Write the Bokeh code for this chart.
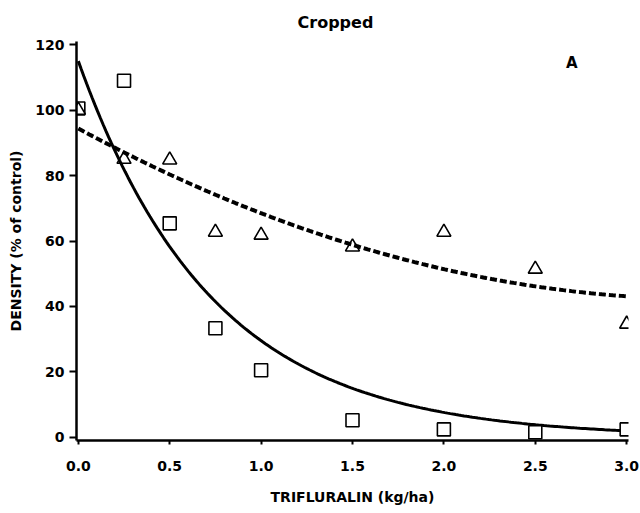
import numpy as np
from bokeh.plotting import figure
from bokeh.models import Range1d, FixedTicker, Title
from bokeh.core.properties import value
from bokeh.embed import file_html
from bokeh.resources import INLINE

sq_x = [0.0, 0.25, 0.5, 0.75, 1.0, 1.5, 2.0, 2.5, 3.0]
sq_y = [100.5, 109.0, 65.4, 33.3, 20.5, 5.2, 2.4, 1.5, 2.4]
tri_x = [0.0, 0.25, 0.5, 0.75, 1.0, 1.5, 2.0, 2.5, 3.0]
tri_y = [100.0, 85.0, 84.8, 62.7, 61.8, 58.2, 62.7, 51.4, 34.6]

# Fitted curves (parameters estimated from the figure)
solid_fit_a = 115.0   # exponential decay: a * exp(-b x)
solid_fit_b = 1.36
dashed_fit_coef = [94.4, -30.3, 4.4]  # quadratic: c0 + c1 x + c2 x^2

x_ticks = [0.0, 0.5, 1.0, 1.5, 2.0, 2.5, 3.0]
x_tick_labels = ["0.0", "0.5", "1.0", "1.5", "2.0", "2.5", "3.0"]
y_ticks = [0, 20, 40, 60, 80, 100, 120]

FONT = "DejaVu Sans"

p = figure(width=640, height=513, output_backend="svg", toolbar_location=None,
           x_range=Range1d(-0.01, 3.01), y_range=Range1d(-1, 121),
           min_border_left=76, min_border_right=12, min_border_top=41,
           min_border_bottom=73)
p.background_fill_color = "white"
p.border_fill_color = "white"
p.outline_line_color = None
p.grid.visible = False

p.title = Title(text="Cropped", align="left", offset=221, standoff=19,
                text_font=FONT, text_font_size="16px", text_font_style="bold",
                text_color="black")

xs = np.linspace(0, 3, 200)
solid_y = solid_fit_a * np.exp(-solid_fit_b * xs)
dashed_y = dashed_fit_coef[0] + dashed_fit_coef[1] * xs + dashed_fit_coef[2] * xs ** 2

p.line(xs, solid_y, line_color="black", line_width=3)
p.line(xs, dashed_y, line_color="black", line_width=4, line_dash="7 3")

p.scatter(sq_x, sq_y, marker="square", size=13, fill_color="white",
          line_color="black", line_width=1.6)
p.scatter(tri_x, tri_y, marker="triangle", size=14, fill_color=None,
          line_color="black", line_width=1.6)

p.text(x=[2.7], y=[114.5], text=["A"], text_font=value(FONT),
       text_font_size="15px", text_font_style="bold", text_align="center",
       text_baseline="middle", text_color="black")

# axes styling
p.xaxis.ticker = FixedTicker(ticks=x_ticks)
p.xaxis.major_label_overrides = {t: l for t, l in zip(x_ticks, x_tick_labels)}
p.yaxis.ticker = FixedTicker(ticks=y_ticks)
for ax in (p.xaxis, p.yaxis):
    ax.axis_line_width = 2.5
    ax.axis_line_color = "black"
    ax.major_tick_line_color = "black"
    ax.major_tick_line_width = 2
    ax.minor_tick_line_color = None
    ax.major_label_text_font = FONT
    ax.major_label_text_font_size = "14px"
    ax.major_label_text_font_style = "bold"
    ax.major_label_text_color = "black"
    ax.axis_label_text_font = FONT
    ax.axis_label_text_font_size = "14px"
    ax.axis_label_text_font_style = "bold"
    ax.axis_label_text_color = "black"

p.xaxis.major_tick_in = 0
p.xaxis.major_tick_out = 4
p.xaxis.major_label_standoff = 16
p.xaxis.axis_label = "TRIFLURALIN (kg/ha)"
p.xaxis.axis_label_standoff = 15

p.yaxis.major_tick_in = 0
p.yaxis.major_tick_out = 7
p.yaxis.major_label_standoff = 5
p.yaxis.axis_label = "DENSITY (% of control)"
p.yaxis.axis_label_standoff = 8

open("out.html", "w").write(file_html(p, INLINE))
